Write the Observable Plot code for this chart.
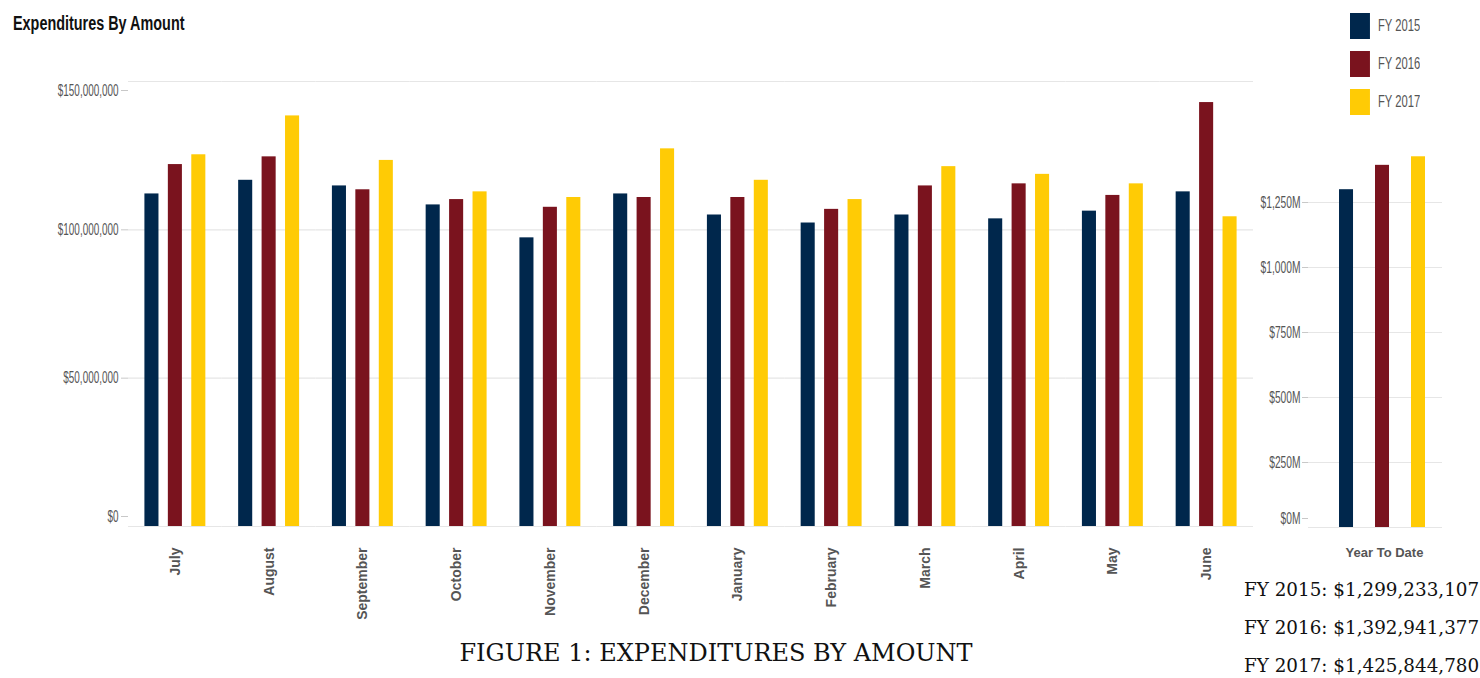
<!DOCTYPE html>
<html><head><meta charset="utf-8">
<script src="https://cdn.jsdelivr.net/npm/d3@7"></script>
<script src="https://cdn.jsdelivr.net/npm/@observablehq/plot@0.6"></script>
<style>
body{margin:0;background:#fff;}
#wrap{position:relative;width:1480px;height:678px;overflow:hidden;background:#fff}
#wrap > *{position:absolute}
#title{left:13px;top:13px;font:bold 20px "Liberation Sans",Arial,sans-serif;line-height:20px;color:#111;transform:scaleX(0.72);transform-origin:left center;white-space:nowrap}
.ytd{left:1244px;font:19px "DejaVu Serif",serif;line-height:19px;color:#111;white-space:nowrap;transform:scaleX(0.965);transform-origin:left center}
#caption{left:0;width:1432px;text-align:center;top:641px;font:24px "DejaVu Serif",serif;line-height:24px;color:#111;white-space:nowrap}
.lg-swatch{margin-bottom:12px !important;padding-bottom:0 !important}
.lg-swatch svg{margin-right:11.5px !important}
</style></head><body><div id="wrap"></div>
<script>
// ---- data (values in US dollars) ----
const months = ["July","August","September","October","November","December","January","February","March","April","May","June"];
const years = ["FY 2015","FY 2016","FY 2017"];
const fy2015 = [112.1,116.7,114.8,108.4,97.3,112.1,105.0,102.3,105.0,103.7,106.3,112.8]; // $M
const fy2016 = [122.0,124.6,113.5,110.2,107.6,110.9,110.9,106.9,114.8,115.5,111.6,142.9]; // $M
const fy2017 = [125.3,138.4,123.4,112.8,110.9,127.3,116.7,110.2,121.3,118.7,115.5,104.4]; // $M
const ytdTotals = [1299233107, 1392941377, 1425844780];
const ytdLabel = "Year To Date";
const leftTicks = [0, 50e6, 100e6, 150e6];
const rightTicks = [0, 250e6, 500e6, 750e6, 1000e6, 1250e6];
const colors = ["#00274c","#7a131e","#ffcb05"];

const series = [fy2015, fy2016, fy2017];
const rows = months.flatMap((m, i) => years.map((y, j) => ({month: m, year: y, value: series[j][i] * 1e6})));
const ytdRows = years.map((y, j) => ({period: ytdLabel, year: y, value: ytdTotals[j]}));

const sans = `"Liberation Sans",Arial,sans-serif`;
const fmtFull = d => "$" + d3.format(",")(d);
const fmtM = d => "$" + d3.format(",")(d / 1e6) + "M";
const tickStyle = {fill: "#555", stroke: "#c8c8c8", fontFamily: sans, fontSize: 16, label: null};

const wrap = document.getElementById("wrap");

// condensed look for axis tick labels (Tableau-style narrow font)
function condense(svg, factor) {
  svg.querySelectorAll('g[aria-label="y-axis tick label"] text').forEach(t => {
    const len = t.getComputedTextLength();
    t.setAttribute("textLength", (len * factor).toFixed(1));
    t.setAttribute("lengthAdjust", "spacingAndGlyphs");
  });
}

// title
const title = document.createElement("div");
title.id = "title"; title.textContent = "Expenditures By Amount";
wrap.appendChild(title);

// left monthly chart
const left = Plot.plot({
  width: 1256, height: 630,
  marginLeft: 128, marginRight: 3, marginTop: 81, marginBottom: 104,
  style: {background: "transparent", fontFamily: sans, fontSize: "13px", overflow: "visible"},
  fx: {domain: months, padding: 0, round: false, label: null},
  x: {domain: years, paddingInner: 0.4, paddingOuter: 0.7, round: false, axis: null},
  y: {domain: [0, 150e6], label: null},
  color: {domain: years, range: colors},
  marks: [
    Plot.gridY(leftTicks, {stroke: "#e6e6e6", strokeOpacity: 1, strokeWidth: 1.2}),
    Plot.barY(rows, {fx: "month", x: "year", y: "value", fill: "year"}),
    Plot.axisFx({anchor: "bottom", tickRotate: -90, tickSize: 0, tickPadding: 21, fontSize: 14, fontWeight: "bold", fill: "#555", fontFamily: sans, label: null}),
    Plot.axisY([0], {...tickStyle, tickFormat: fmtFull, tickSize: 7, tickPadding: 3, dy: -10}),
    Plot.axisY([50e6, 100e6], {...tickStyle, tickFormat: fmtFull, tickSize: 7, tickPadding: 3}),
    Plot.axisY([150e6], {...tickStyle, tickFormat: fmtFull, tickSize: 7, tickPadding: 3, dy: 9})
  ]
});
left.style.left = "0px"; left.style.top = "0px";
wrap.appendChild(left);
condense(left, 0.62);

// right year-to-date chart
const right = Plot.plot({
  width: 280, height: 580,
  marginLeft: 108, marginRight: 38, marginTop: 150, marginBottom: 53,
  style: {background: "transparent", fontFamily: sans, fontSize: "13px", overflow: "visible"},
  fx: {domain: [ytdLabel], padding: 0, round: false, label: null},
  x: {domain: years, paddingInner: 0.611, paddingOuter: 0.667, align: 0.646, round: false, axis: null},
  y: {domain: [0, 1450e6], label: null},
  color: {domain: years, range: colors},
  marks: [
    Plot.gridY(rightTicks, {stroke: "#e6e6e6", strokeOpacity: 1, strokeWidth: 1.2}),
    Plot.barY(ytdRows, {fx: "period", x: "year", y: "value", fill: "year"}),
    Plot.axisFx({anchor: "bottom", tickSize: 0, tickPadding: 20, dx: 9, fontSize: 13, fontWeight: "bold", fill: "#555", fontFamily: sans, label: null}),
    Plot.axisY([0], {...tickStyle, tickFormat: fmtM, tickSize: 6, tickPadding: 2, dy: -9}),
    Plot.axisY(rightTicks.slice(1), {...tickStyle, tickFormat: fmtM, tickSize: 6, tickPadding: 2})
  ]
});
right.style.left = "1200px"; right.style.top = "0px";
wrap.appendChild(right);
condense(right, 0.64);

// legend (condensed horizontally like the reference)
const legend = Plot.legend({
  color: {domain: years, range: colors},
  legend: "swatches", columns: 1, swatchWidth: 28.5, swatchHeight: 26,
  className: "lg",
  style: {fontFamily: sans, fontSize: "16px", color: "#555", margin: "0"}
});
legend.style.left = "1350px"; legend.style.top = "13px"; legend.style.margin = "0";
legend.style.transform = "scaleX(0.7)"; legend.style.transformOrigin = "left top";
wrap.appendChild(legend);

// year-to-date totals
const tops = [580, 618, 656];
years.forEach((y, j) => {
  const d = document.createElement("div");
  d.className = "ytd";
  d.style.top = tops[j] + "px";
  d.textContent = `${y}: $${d3.format(",")(ytdTotals[j])}`;
  wrap.appendChild(d);
});

// caption
const cap = document.createElement("div");
cap.id = "caption"; cap.textContent = "FIGURE 1: EXPENDITURES BY AMOUNT";
wrap.appendChild(cap);
</script></body></html>
